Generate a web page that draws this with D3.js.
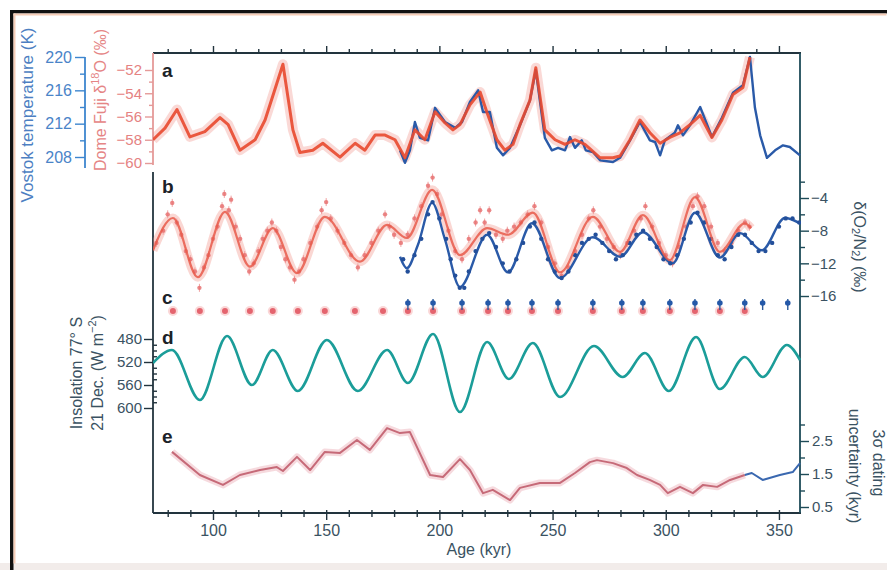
<!DOCTYPE html>
<html><head><meta charset="utf-8">
<script src="https://cdn.jsdelivr.net/npm/d3@7"></script>
<style>
html,body{margin:0;padding:0;background:#fff;}
svg{display:block;font-family:"Liberation Sans",Arial,sans-serif;}
</style></head>
<body>
<svg id="c" width="887" height="570"></svg>
<script>
// ---------------- DATA ----------------
const ageMajorTicks = [100,150,200,250,300,350];
const ageMinorTicks = [80,90,110,120,130,140,160,170,180,190,210,220,230,240,260,270,280,290,310,320,330,340];
const domeTicks = [-60,-58,-56,-54,-52];
const domeMinor = [-59,-57,-55,-53];
const vostokTicks = [208,212,216,220];
const vostokMinor = [210,214,218];
const o2n2Ticks = [-16,-12,-8,-4];
const o2n2Minor = [-14,-10,-6,-2];
const insolTicks = [480,520,560,600];
const insolMinor = [490,500,510,530,540,550,570,580,590];
const uncTicks = [0.5,1.5,2.5];
const uncMinor = [1.0,2.0,3.0];

// panel a: Dome Fuji d18O (permil)
const domeAge = [73.5,78.8,84.1,89.8,96.4,103.1,106.7,111.9,118.6,123.0,127.3,130.9,135.3,138.4,144.1,148.5,156.1,162.8,167.1,171.6,176.0,180.4,184.8,189.2,193.6,198.1,202.5,206.0,209.1,213.5,218.0,221.1,225.4,228.9,232.5,235.6,240.0,242.6,246.6,251.1,255.5,259.9,264.3,267.8,271.0,276.7,279.8,284.2,288.6,293.0,297.5,301.8,306.3,310.7,315.2,320.4,324.8,329.7,334.1,337.2];
const domeD18O = [-58.0,-57.0,-55.4,-57.75,-57.3,-56.1,-56.7,-58.9,-58.0,-56.3,-53.7,-51.5,-57.15,-59.1,-58.9,-58.3,-59.5,-58.3,-58.9,-57.6,-57.6,-58.0,-59.55,-57.15,-58.0,-55.6,-56.55,-57.15,-56.7,-55.0,-53.9,-55.7,-58.0,-58.9,-58.4,-56.7,-54.6,-51.8,-57.15,-58.0,-58.4,-58.0,-58.4,-59.0,-59.55,-59.55,-59.4,-58.0,-56.3,-57.4,-58.3,-57.8,-57.4,-56.7,-55.9,-57.8,-56.3,-54.1,-53.5,-50.9];
// panel a: Vostok temperature (K)
const vostokAge = [182.6,184.8,187.0,189.2,191.4,195.0,198.1,202.5,207.0,210.0,213.5,217.1,219.3,222.3,225.4,228.1,231.2,235.6,240.0,242.6,246.6,249.7,252.4,255.5,257.7,259.9,262.9,264.7,267.8,271.0,276.7,279.8,284.2,288.6,293.0,295.3,297.5,299.6,304.0,305.4,307.6,310.7,315.2,320.4,324.8,329.7,334.1,337.2,339.4,341.7,344.7,348.3,351.8,354.8,359.3];
const vostokTemp = [208.8,207.3,208.8,212.2,210.3,210.0,213.9,212.2,211.5,212.2,214.6,216.0,213.4,213.4,209.1,208.2,209.1,211.8,214.8,218.4,210.3,208.8,209.1,208.8,210.4,209.1,210.0,208.8,208.6,207.6,207.4,207.9,210.0,212.2,210.0,209.8,208.2,210.0,210.9,211.8,210.6,211.8,214.0,210.4,212.7,215.7,216.6,220.0,213.9,210.6,207.9,208.8,209.4,209.2,208.2];

// panel b: d(O2/N2) smoothed curves (permil)
const dfO2Age = [73.5,82.3,93.3,105.3,116.3,126.4,137.1,149.4,164.9,176.9,185.6,196.8,209.1,221.1,230.3,241.3,253.3,267.8,279.8,289.9,301.8,312.9,323.9,334.9,337.7];
const dfO2Val = [-10.4,-6.45,-13.7,-5.7,-12.4,-7.7,-13.2,-6.3,-11.8,-7.3,-8.9,-3.0,-11.0,-7.7,-8.5,-5.8,-13.1,-6.3,-10.6,-6.1,-11.6,-3.9,-10.6,-7.1,-7.7];
const voO2Age = [182.6,185.6,190.5,196.8,202.5,209.1,221.1,230.3,240.9,253.3,267.8,279.8,289.9,303.1,312.9,323.9,332.8,342.5,352.6,359.3];
const voO2Val = [-11.2,-12.6,-9.75,-4.6,-9.1,-14.9,-8.5,-13.1,-7.1,-13.8,-8.8,-11.2,-8.2,-12.0,-5.8,-11.3,-8.3,-10.4,-6.45,-7.1];
// panel b: individual measurements
const dfPtAge = [75,78,80,82,84,86,88,90,92,94,96,98,100,102,104,105,107,108,110,112,114,116,118,120,122,124,126,128,130,132,134,136,138,140,143,146,148,150,152,155,158,161,164,167,170,173,176,178,180,183,186,189,192,195,197,199,201,204,207,210,213,216,218,220,222,225,228,230,233,236,239,242,245,248,251,254,257,260,263,266,268,271,274,277,280,283,286,289,291,294,297,300,303,306,309,312,314,317,320,323,326,329,332,335,337];
const dfPtVal = [-9.5,-8,-6,-4.6,-7,-8.5,-10.5,-11.5,-13,-15,-12.5,-11,-9,-7.5,-5,-3.5,-5.5,-4.2,-7.5,-9,-11,-13,-12,-10.5,-9,-8,-7,-8,-10,-11.5,-12.5,-14,-13,-11.5,-9.5,-7.5,-5.5,-4.5,-6.5,-8,-9.5,-11,-12.5,-11,-9.5,-8,-6,-7.5,-8.5,-9.5,-8.5,-6.5,-5,-2.5,-1.5,-3.5,-6,-8,-10.5,-11.5,-9,-7,-5.5,-7,-5.5,-8.5,-9,-8,-7.5,-7,-6,-5,-7,-10,-12,-13.5,-12.5,-10.5,-8.5,-6.5,-5.5,-7.5,-9,-10,-11,-9.5,-8,-6.5,-5,-7.5,-9.5,-11,-12,-10,-7.5,-5,-3.8,-5,-7.5,-9.5,-10.5,-9.5,-8,-7,-7.5];
const voPtAge = [184,186,189,192,195,197,200,203,205,207,209,211,213,216,219,222,225,228,231,234,237,240,242,245,248,251,254,257,260,263,266,269,272,275,278,281,284,287,290,293,296,299,302,305,308,311,314,317,320,323,326,329,332,335,338,341,344,347,350,353,356,359];
const voPtVal = [-11.5,-13,-11,-9,-6,-4.5,-6.5,-9,-11.5,-13.5,-15,-15,-13,-10.5,-9,-8.3,-10,-12,-13,-11.5,-9.5,-7.5,-7,-9,-11.5,-13,-13.8,-13,-11,-9.5,-9,-8.5,-9.5,-10.5,-11.5,-11,-9.5,-8.5,-8,-9,-10,-11.5,-12,-11,-9,-7,-5.8,-7,-9,-11,-11.5,-10,-8.5,-8.5,-9.5,-10.5,-10.5,-9.5,-7.5,-6.5,-6.5,-7];

// panel c: age control points
const dfTieAge = [82.3,94.2,105.3,116.3,126.4,137.5,149.4,162.7,175.1,186.1,197.2,210.0,221.5,230.3,240.9,252.4,267.8,280.6,289.9,301.8,312.9,323.9,334.9];
const voTieAge = [186.1,197.2,210.0,221.5,230.3,240.9,252.4,267.8,280.6,289.9,301.8,312.9,323.9,334.9,342.8,353.9];

// panel d: insolation 77S, 21 Dec (W m-2)
const insolAge = [73.5,81.9,94.2,106.2,117.2,126.4,137.5,150.3,164.0,176.9,186.1,197.2,209.1,221.1,230.7,241.3,253.3,268.3,281.0,290.8,301.4,313.4,323.9,334.9,342.8,353.5,359.3];
const insolVal = [521.7,499.1,586.1,474.8,560,499.1,570.4,481.7,570.4,499.1,556.5,471.3,607,485.2,549.6,487,580.9,492.2,546.1,504.3,570.4,476.5,567,511.3,546.1,490.4,516.5];

// panel e: 3-sigma dating uncertainty (kyr)
const uncAge = [81.9,94.2,104.4,111.9,120.8,128.2,130.9,137.1,142.9,149.4,156.1,163.6,169.3,176.9,182.6,187.0,195.9,201.6,209.1,213.5,219.3,223.6,231.2,235.6,244.4,253.3,259.9,266.5,269.6,276.7,282.8,287.3,292.9,297.5,300.9,306.3,312.0,316.5,322.7,328.4,334.9];
const uncVal = [2.17,1.47,1.17,1.47,1.62,1.71,1.59,2.02,1.62,2.17,2.14,2.53,2.23,2.89,2.74,2.77,1.47,1.41,1.95,1.62,0.92,1.02,0.71,1.08,1.23,1.23,1.53,1.86,1.92,1.83,1.68,1.47,1.32,1.17,0.92,1.11,0.92,1.17,1.11,1.32,1.47];
const uncVoAge = [334.9,338.0,342.8,350.4,356.1,359.3];
const uncVoVal = [1.47,1.53,1.32,1.47,1.56,1.83];

// ---------------- DRAW ----------------
const svg = d3.select("#c");
const INK = "#22343e", TXT = "#3a5262";
const RED = "#e8482e", PINK = "#e88080", BLUE = "#2a5aa8", TEAL = "#1b9d99", MAUVE = "#c66a78";

svg.append("rect").attr("width",887).attr("height",570).attr("fill","#fff");
svg.append("rect").attr("x",0).attr("y",563).attr("width",887).attr("height",7).attr("fill","#f2ecea");
// scan frame
svg.append("rect").attr("x",10).attr("y",10).attr("width",877).attr("height",3.5).attr("fill","#111");
svg.append("rect").attr("x",10).attr("y",10).attr("width",3.5).attr("height",560).attr("fill","#111");
svg.append("rect").attr("x",13.5).attr("y",13.5).attr("width",873).attr("height",2).attr("fill","#f6cdb8");
svg.append("rect").attr("x",13.5).attr("y",13.5).attr("width",2).attr("height",550).attr("fill","#f6cdb8");

const x = d3.scaleLinear().domain([73.5,359.3]).range([153,800]);
const yA = d3.scaleLinear().domain([-60,-52]).range([163,70]);
const yT = d3.scaleLinear().domain([208,220]).range([157,57]);
const yB = d3.scaleLinear().domain([-16,-4]).range([296,198]);
const yD = d3.scaleLinear().domain([480,600]).range([339,408]);
const yE = d3.scaleLinear().domain([0.5,2.5]).range([507,441]);

function styleAxis(g, color, txtColor, fs){
  g.select(".domain").remove();
  g.selectAll(".tick line").attr("stroke", color).attr("stroke-width",1.4);
  g.selectAll(".tick text").attr("fill", txtColor||color).style("font-size",(fs||15)+"px").style("font-family","'Liberation Sans',Arial,sans-serif");
}
function vline(xp,y1,y2,color,w){ svg.append("line").attr("x1",xp).attr("x2",xp).attr("y1",y1).attr("y2",y2).attr("stroke",color).attr("stroke-width",w||1.6); }
function hline(yp,x1,x2,color,w){ svg.append("line").attr("x1",x1).attr("x2",x2).attr("y1",yp).attr("y2",yp).attr("stroke",color).attr("stroke-width",w||1.6); }

// frame lines
hline(53,153,801,INK,1.8);
hline(513,153,801,INK,1.8);
vline(800,53,513,"#1e4b58",1.8);
vline(153,53,165,"#e59a98",1.8);
vline(153,172,513,INK,1.8);
vline(85,57,168,"#3d86cf",1.8);

// top age axis
styleAxis(svg.append("g").attr("transform","translate(0,53)").call(d3.axisTop(x).tickValues(ageMajorTicks).tickSize(7).tickFormat("")), INK);
styleAxis(svg.append("g").attr("transform","translate(0,53)").call(d3.axisTop(x).tickValues(ageMinorTicks).tickSize(4).tickFormat("")), INK);
// bottom age axis
styleAxis(svg.append("g").attr("transform","translate(0,513)").call(d3.axisBottom(x).tickValues(ageMajorTicks).tickSize(7).tickPadding(5).tickFormat(d3.format("d"))), INK, TXT, 16);
styleAxis(svg.append("g").attr("transform","translate(0,513)").call(d3.axisBottom(x).tickValues(ageMinorTicks).tickSize(4).tickFormat("")), INK);
styleAxis(svg.append("g").attr("transform","translate(0,513)").call(d3.axisTop(x).tickValues(ageMajorTicks.concat(ageMinorTicks)).tickSize(3).tickFormat("")), INK);
svg.append("text").attr("x",479).attr("y",555).attr("text-anchor","middle").attr("fill",TXT).style("font-size","16px").text("Age (kyr)");

// Dome Fuji axis
styleAxis(svg.append("g").attr("transform","translate(153,0)").call(d3.axisLeft(yA).tickValues(domeTicks).tickSize(8).tickPadding(3).tickFormat(d3.format("d"))), "#e59a98", "#e58282", 15);
styleAxis(svg.append("g").attr("transform","translate(153,0)").call(d3.axisLeft(yA).tickValues(domeMinor).tickSize(4).tickFormat("")), "#e59a98");
// Vostok axis
styleAxis(svg.append("g").attr("transform","translate(85,0)").call(d3.axisLeft(yT).tickValues(vostokTicks).tickSize(10).tickPadding(3).tickFormat(d3.format("d"))), "#3d86cf", "#4a84c8", 16);
styleAxis(svg.append("g").attr("transform","translate(85,0)").call(d3.axisLeft(yT).tickValues(vostokMinor).tickSize(5).tickFormat("")), "#3d86cf");
// d(O2/N2) axis
styleAxis(svg.append("g").attr("transform","translate(800,0)").call(d3.axisRight(yB).tickValues(o2n2Ticks).tickSize(9).tickPadding(2).tickFormat(d3.format("d"))), "#1e4b58", TXT, 15);
styleAxis(svg.append("g").attr("transform","translate(800,0)").call(d3.axisRight(yB).tickValues(o2n2Minor).tickSize(5).tickFormat("")), "#1e4b58");
// insolation axis
styleAxis(svg.append("g").attr("transform","translate(153,0)").call(d3.axisLeft(yD).tickValues(insolTicks).tickSize(9).tickPadding(2).tickFormat(d3.format("d"))), INK, TXT, 15);
styleAxis(svg.append("g").attr("transform","translate(153,0)").call(d3.axisLeft(yD).tickValues(insolMinor).tickSize(-4).tickFormat("")), INK);
// uncertainty axis
styleAxis(svg.append("g").attr("transform","translate(800,0)").call(d3.axisRight(yE).tickValues(uncTicks).tickSize(9).tickPadding(3).tickFormat(d3.format(".1f"))), "#1e4b58", TXT, 15);
styleAxis(svg.append("g").attr("transform","translate(800,0)").call(d3.axisRight(yE).tickValues(uncMinor).tickSize(5).tickFormat("")), "#1e4b58");

// axis titles
function vtext(xp, yp, rot, color, fs, build){
  const t = svg.append("text").attr("transform",`translate(${xp},${yp}) rotate(${rot})`)
    .attr("text-anchor","middle").attr("dominant-baseline","central").attr("fill",color).style("font-size",fs+"px");
  build(t); return t;
}
vtext(27,115,-90,"#4d7fc2",17,t=>t.text("Vostok temperature (K)"));
vtext(100,100,-90,"#e58585",16,t=>{t.append("tspan").text("Dome Fuji δ");t.append("tspan").attr("dy",-5).style("font-size","11px").text("18");t.append("tspan").attr("dy",5).text("O (‰)");});
vtext(76,373,-90,TXT,16,t=>t.text("Insolation 77° S"));
vtext(97,373,-90,TXT,16,t=>{t.append("tspan").text("21 Dec. (W m");t.append("tspan").attr("dy",-5).style("font-size","11px").text("−2");t.append("tspan").attr("dy",5).text(")");});
vtext(860,247,90,TXT,16,t=>{t.append("tspan").text("δ(O");t.append("tspan").attr("dy",4).style("font-size","11px").text("2");t.append("tspan").attr("dy",-4).text("/N");t.append("tspan").attr("dy",4).style("font-size","11px").text("2");t.append("tspan").attr("dy",-4).text(") (‰)");});
vtext(878,463,90,TXT,16,t=>t.text("3σ dating"));
vtext(854,466,90,TXT,16,t=>t.text("uncertainty (kyr)"));

// panel letters
[["a",77],["b",193],["c",304],["d",344],["e",443]].forEach(([l,yy])=>{
  svg.append("text").attr("x",162).attr("y",yy).attr("fill","#1b2228").style("font-size","19px").style("font-weight","bold").text(l);
});

const clip = svg.append("clipPath").attr("id","plot").append("rect").attr("x",153).attr("y",40).attr("width",648).attr("height",475);
const P = svg.append("g").attr("clip-path","url(#plot)");

function series(ages, vals, ys, curve){
  return d3.line().x((d,i)=>x(ages[i])).y((d,i)=>ys(vals[i])).curve(curve||d3.curveLinear)(vals);
}
// ---- panel a ----
P.append("path").attr("d",series(domeAge,domeD18O,yA)).attr("fill","none").attr("stroke","rgba(240,130,120,0.30)").attr("stroke-width",10).attr("stroke-linejoin","round");
P.append("path").attr("d",series(vostokAge,vostokTemp,yT)).attr("fill","none").attr("stroke",BLUE).attr("stroke-width",2.4).attr("stroke-linejoin","round");
P.append("path").attr("d",series(domeAge,domeD18O,yA)).attr("fill","none").attr("stroke",RED).attr("stroke-width",3).attr("stroke-linejoin","round").attr("opacity",0.9);

// ---- panel b ----
P.append("path").attr("d",series(dfO2Age,dfO2Val,yB,d3.curveMonotoneX)).attr("fill","none").attr("stroke","rgba(240,140,130,0.35)").attr("stroke-width",9);
P.selectAll(".dfe").data(dfPtVal).join("line").attr("x1",(d,i)=>x(dfPtAge[i])).attr("x2",(d,i)=>x(dfPtAge[i]))
  .attr("y1",d=>yB(d)-4).attr("y2",d=>yB(d)+4).attr("stroke","#f0a0a0").attr("stroke-width",1);
P.selectAll(".dfp").data(dfPtVal).join("circle").attr("cx",(d,i)=>x(dfPtAge[i])).attr("cy",d=>yB(d)).attr("r",2.2).attr("fill","#e77272").attr("opacity",0.85);
P.append("path").attr("d",series(voO2Age,voO2Val,yB,d3.curveMonotoneX)).attr("fill","none").attr("stroke",BLUE).attr("stroke-width",2.4);
P.selectAll(".vop").data(voPtVal).join("circle").attr("cx",(d,i)=>x(voPtAge[i])).attr("cy",d=>yB(d)).attr("r",2.2).attr("fill","#234f9a");
P.append("path").attr("d",series(dfO2Age,dfO2Val,yB,d3.curveMonotoneX)).attr("fill","none").attr("stroke","#e85a4a").attr("stroke-width",2.2).attr("opacity",0.85);

// ---- panel c ----
P.selectAll(".dft").data(dfTieAge).join("circle").attr("cx",d=>x(d)).attr("cy",311).attr("r",5).attr("fill","rgba(240,140,140,0.35)");
P.selectAll(".dft2").data(dfTieAge).join("circle").attr("cx",d=>x(d)).attr("cy",311).attr("r",3).attr("fill","#e4646e");
P.selectAll(".vot").data(voTieAge).join("line").attr("x1",d=>x(d)).attr("x2",d=>x(d)).attr("y1",299).attr("y2",310).attr("stroke","#2c5a9a").attr("stroke-width",1.4);
P.selectAll(".vot2").data(voTieAge).join("circle").attr("cx",d=>x(d)).attr("cy",303).attr("r",2.8).attr("fill","#2458a8");

// ---- panel d ----
P.append("path").attr("d",series(insolAge,insolVal,yD,d3.curveMonotoneX)).attr("fill","none").attr("stroke",TEAL).attr("stroke-width",2.6);

// ---- panel e ----
P.append("path").attr("d",series(uncAge,uncVal,yE)).attr("fill","none").attr("stroke","rgba(230,150,160,0.35)").attr("stroke-width",7).attr("stroke-linejoin","round");
P.append("path").attr("d",series(uncAge,uncVal,yE)).attr("fill","none").attr("stroke",MAUVE).attr("stroke-width",2).attr("stroke-linejoin","round");
P.append("path").attr("d",series(uncVoAge,uncVoVal,yE)).attr("fill","none").attr("stroke","#3a68b0").attr("stroke-width",2).attr("stroke-linejoin","round");
</script>
</body></html>
